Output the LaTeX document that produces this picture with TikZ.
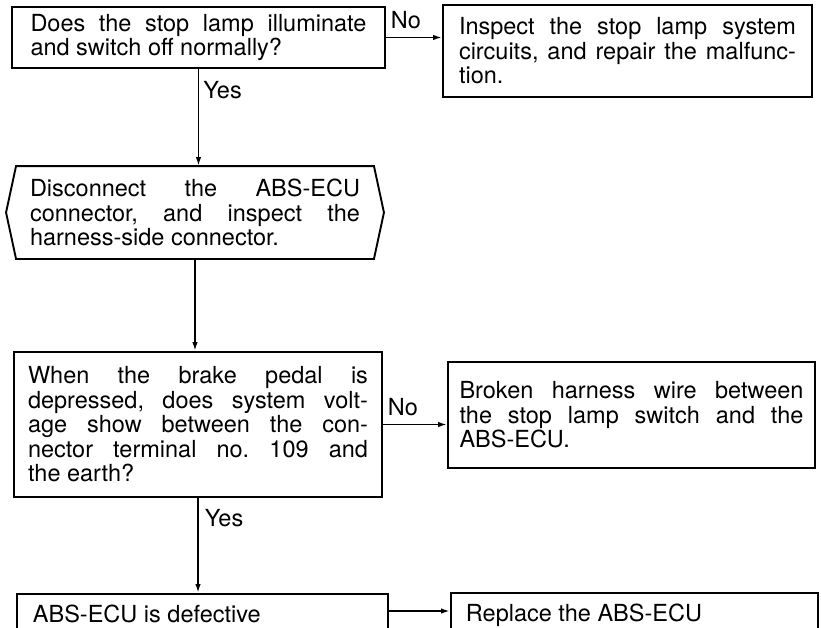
\documentclass[tikz,border=0pt]{standalone}
\usepackage{fontspec}
\setmainfont{TeX Gyre Heros}
\usetikzlibrary{arrows.meta,positioning,calc}
\frenchspacing

\begin{document}
\begin{tikzpicture}[x=1pt, y=-1pt,
      box/.style={draw, line width=1.9pt, inner xsep=0pt, inner ysep=4pt, align=justify,
                  font=\fontsize{23.5}{24.5}\selectfont},
      arr/.style={-{Latex[length=9pt,width=5.5pt]}, line width=1.8pt},
      lbl/.style={font=\fontsize{23.5}{24.5}\selectfont, inner sep=0pt}
    ]
      \clip (0,0) rectangle (821,627);
      \node[box, minimum width=373pt, minimum height=61pt, text width=336pt] (lamp) at (198.5,37.5)
        {Does the stop lamp illuminate\linebreak and switch off normally?};
      \node[box, minimum width=369pt, minimum height=92pt, text width=337pt] (insp) at (627.5,51)
        {Inspect the stop lamp system\linebreak circuits, and repair the malfunc-\linebreak tion.};
      \node[box, draw=none, minimum width=356pt, minimum height=91pt, text width=330pt] (disc) at (195,212.5)
        {Disconnect the ABS-ECU\linebreak connector, and inspect the\linebreak harness-side connector.};
      \draw[line width=1.9pt] (disc.north west) -- (disc.north east) -- ([xshift=10pt]disc.east)
        -- (disc.south east) -- (disc.south west) -- ([xshift=-10pt]disc.west) -- cycle;
      \node[box, minimum width=368pt, minimum height=145pt, text width=340pt] (volt) at (198,424.5)
        {When the brake pedal is\linebreak depressed, does system volt-\linebreak age show between the con-\linebreak nector terminal no. 109 and\linebreak the earth?};
      \node[box, minimum width=367pt, minimum height=106pt, text width=344pt] (brok) at (631.5,415)
        {Broken harness wire between\linebreak the stop lamp switch and the\linebreak ABS-ECU.};
      \node[box, anchor=north west, minimum width=371pt, text width=339pt, inner ysep=11pt, text depth=60pt] (ecu) at (16,593)
        {ABS-ECU is defective};
      \node[box, anchor=north west, minimum width=367pt, text width=337pt, inner ysep=11pt, text depth=60pt] (repl) at (450,592)
        {Replace the ABS-ECU};
      \draw[arr] (lamp.east) -- (lamp.east -| insp.west)
        node[pos=0, lbl, anchor=base west, xshift=4pt, yshift=9pt] {No};
      \draw[arr] (lamp.south) -- (lamp.south |- disc.north)
        node[pos=0, lbl, anchor=north west, xshift=4pt, yshift=-12pt] {Yes};
      \draw[arr] (disc.south) -- (disc.south |- volt.north);
      \draw[arr] (volt.east) -- (volt.east -| brok.west)
        node[pos=0, lbl, anchor=base west, xshift=4pt, yshift=9pt] {No};
      \draw[arr] (volt.south) -- (volt.south |- ecu.north)
        node[pos=0, lbl, anchor=north west, xshift=6pt, yshift=-11pt] {Yes};
      \coordinate (a5) at ([yshift=-18pt]ecu.north east);
      \draw[arr] (a5) -- (a5 -| repl.west);
    \end{tikzpicture}
\end{document}
